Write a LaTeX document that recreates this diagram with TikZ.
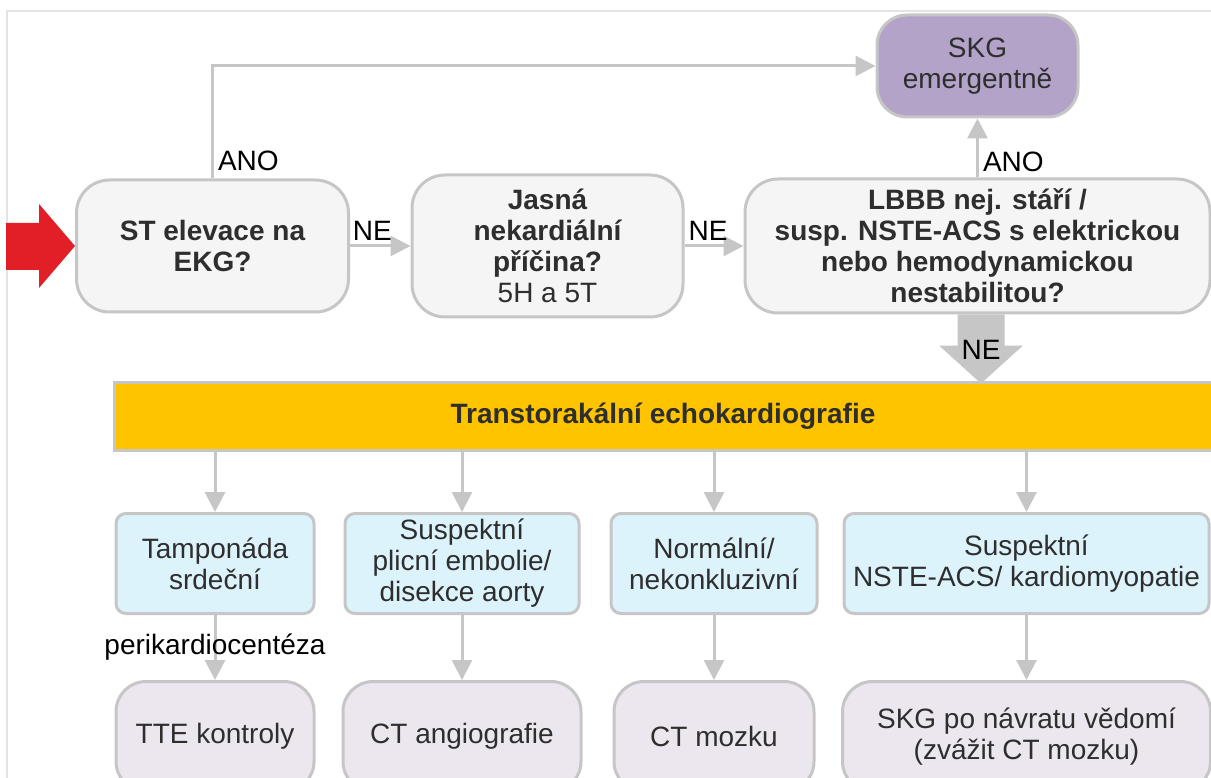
\documentclass[tikz,border=0pt]{standalone}
\usepackage{fontspec}
\setmainfont{Liberation Sans}
\usepackage{xcolor}
\usepackage{tikz}
\usetikzlibrary{arrows.meta,positioning}

\definecolor{linegray}{HTML}{C6C6C6}
\definecolor{framegray}{HTML}{E4E4E4}
\definecolor{boxgray}{HTML}{F5F5F5}
\definecolor{skgviolet}{HTML}{B3A3C8}
\definecolor{echoyellow}{HTML}{FFC400}
\definecolor{findblue}{HTML}{DCF3FB}
\definecolor{stepviolet}{HTML}{ECE6EE}
\definecolor{startred}{HTML}{E21F26}
\definecolor{textdark}{HTML}{2E2E2E}
\newcommand{\flowsize}{\fontsize{28}{31}\selectfont}

\begin{document}
\begin{tikzpicture}[
  x=1pt, y=1pt,
  question/.style={rectangle, rounded corners=33pt, draw=linegray, line width=3pt, fill=boxgray,
    text=textdark, font=\flowsize\bfseries, align=center, inner sep=0pt},
  skgbox/.style={rectangle, rounded corners=30pt, draw=linegray, line width=3pt, fill=skgviolet,
    text=textdark, font=\flowsize, align=center, inner sep=0pt},
  echobar/.style={rectangle, draw=linegray, line width=3pt, fill=echoyellow,
    text=textdark, font=\flowsize\bfseries, inner sep=0pt},
  finding/.style={rectangle, rounded corners=10pt, draw=linegray, line width=3pt, fill=findblue,
    text=textdark, font=\flowsize, align=center, inner sep=0pt, minimum height=100pt},
  action/.style={rectangle, rounded corners=30pt, draw=linegray, line width=3pt, fill=stepviolet,
    text=textdark, font=\flowsize, align=center, inner sep=0pt, minimum height=110pt},
  lbl/.style={font=\flowsize, text=black, inner sep=4pt},
  arrow/.style={-{Triangle[length=20pt, width=20pt]}, draw=linegray, line width=3pt}
]
  \useasboundingbox (0,0) rectangle (1211,-778);
  \clip (0,0) rectangle (1211,-778);

  % frame of the figure
  \draw[framegray, line width=2pt] (7,-800) |- (1230,-11);

  % first row
  \node[question, minimum width=272pt, minimum height=132pt] (st) at (212.5,-246) {ST elevace na\\EKG?};
  \node[question, minimum width=271pt, minimum height=142pt, right=60.5pt of st] (jasna)
    {Jasná\\nekardiální\\příčina?\\\mdseries 5H a 5T};
  \node[question, minimum width=465pt, minimum height=134pt, right=59pt of jasna] (lbbb)
    {LBBB nej. stáří /\\susp. NSTE-ACS s elektrickou\\nebo hemodynamickou\\nestabilitou?};
  \node[skgbox, minimum width=201pt, minimum height=102pt, above=59pt of lbbb] (skg) {SKG\\emergentně};

  % start arrow
  \fill[startred] (st.west) -- ++(-36,42) -- ++(0,-19) -- ++(-33,0) -- ++(0,-47)
    -- ++(33,0) -- ++(0,-18) -- cycle;

  \draw[arrow] (st.north) |- (skg.west) node[lbl, right, pos=.08] (ano1) {ANO};
  \draw[arrow] (st) -- (jasna) node[lbl, above, pos=.37] (ne1) {NE};
  \draw[arrow] (jasna) -- (lbbb) node[lbl, above, pos=.4] (ne2) {NE};
  \draw[arrow] (lbbb.north) -- (skg.south) node[lbl, right, pos=.26] (ano2) {ANO};

  % echo
  \node[echobar, minimum width=1098pt, minimum height=68pt] (echo) at (663,-416)
    {Transtorakální echokardiografie};

  \fill[linegray] ([xshift=-20pt]lbbb.south) -- ++(0,-31) -- ++(-18.5,0) -- ++(42,-38)
    -- ++(42,38) -- ++(-18.5,0) -- ++(0,31) -- cycle;
  \node[lbl] (ne3) at ([xshift=3.5pt, yshift=-35pt]lbbb.south) {NE};

  % findings
  \node[finding, minimum width=198pt] (tamp) at (215,-563.5) {Tamponáda\\srdeční};
  \node[finding, minimum width=234pt, right=28pt of tamp] (plicni)
    {Suspektní\\plicní embolie/\\disekce aorty};
  \node[finding, minimum width=206pt, right=29pt of plicni] (normal) {Normální/\\nekonkluzivní};
  \node[finding, minimum width=365pt, right=24pt of normal] (nste)
    {Suspektní\\NSTE-ACS/ kardiomyopatie};

  % actions
  \node[action, minimum width=198pt, below=65pt of tamp] (tte) {TTE kontroly};
  \node[action, minimum width=238pt, below=65pt of plicni] (angio) {CT angiografie};
  \node[action, minimum width=200pt, below=65pt of normal] (mozek) {CT mozku};
  \node[action, minimum width=368pt, below=65pt of nste] (skgpo)
    {SKG po návratu vědomí\\(zvážit CT mozku)};

  \foreach \f in {tamp,plicni,normal,nste}
    \draw[arrow] (echo.south -| \f.north) -- (\f.north);

  \draw[arrow] (tamp.south) -- (tte.north) node[lbl, midway] (perik) {perikardiocentéza};
  \draw[arrow] (plicni.south) -- (angio.north);
  \draw[arrow] (normal.south) -- (mozek.north);
  \draw[arrow] (nste.south) -- (skgpo.north);
\end{tikzpicture}
\end{document}
